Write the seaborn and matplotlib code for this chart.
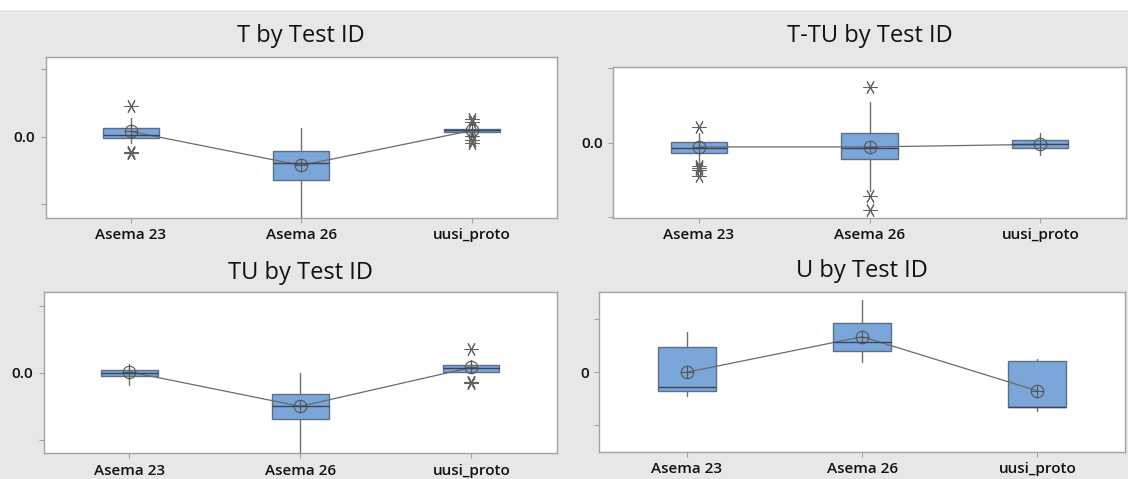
import matplotlib
matplotlib.use("Agg")
import matplotlib.pyplot as plt
from matplotlib.path import Path
from matplotlib.patches import Rectangle
import seaborn as sns

# ---------------------------------------------------------------- data
test_ids = ["Asema 23", "Asema 26", "uusi_proto"]

# T
t_q1 = [-0.024, -0.65, 0.066]
t_med = [0.03, -0.39, 0.09]
t_q3 = [0.13, -0.21, 0.11]
t_lo = [-0.10, -1.40, 0.04]
t_hi = [0.28, 0.125, 0.14]
t_mean = [0.075, -0.43, 0.09]
t_out = [[0.45, -0.23, -0.24, -0.25], [], [0.26, 0.21, 0.01, -0.05, -0.10]]

# T-TU
ttu_q1 = [-0.133, -0.213, -0.075]
ttu_med = [-0.067, -0.067, -0.022]
ttu_q3 = [0.005, 0.133, 0.036]
ttu_lo = [-0.28, -0.653, -0.164]
ttu_hi = [0.125, 0.547, 0.133]
ttu_mean = [-0.057, -0.057, -0.022]
ttu_out = [[0.205, -0.31, -0.34, -0.37, -0.44], [0.74, -0.72, -0.90], []]

# TU
tu_q1 = [-0.05, -0.69, 0.005]
tu_med = [-0.01, -0.50, 0.066]
tu_q3 = [0.036, -0.32, 0.115]
tu_lo = [-0.18, -1.30, 0.005]
tu_hi = [0.125, 0.0, 0.19]
tu_mean = [0.015, -0.50, 0.08]
tu_out = [[], [], [0.35, -0.13, -0.14, -0.15]]

# U
u_q1 = [-0.347, 0.40, -0.66]
u_med = [-0.27, 0.566, -0.65]
u_q3 = [0.477, 0.936, 0.213]
u_lo = [-0.447, 0.194, -0.74]
u_hi = [0.766, 1.36, 0.257]
u_mean = [0.0, 0.67, -0.35]
u_out = [[], [], []]

# ---------------------------------------------------------------- style
sns.set_theme(style="white")
plt.rcParams["font.family"] = ["Open Sans", "DejaVu Sans"]

BG = "#e7e7e7"
BOX = "#7ba6d9"
BOX_EDGE = "#5d6f85"
MEDIAN = "#3a4656"
WHISKER = "#6f6f6f"
FLIER = "#626262"
MEAN = "#6a6a6a"
SPINE = "#a3a3a3"

W, H = 1128, 479
fig = plt.figure(figsize=(W / 100, H / 100), dpi=100, facecolor=BG)
fig.patches.append(Rectangle((0, 1 - 10 / H), 1, 10 / H, transform=fig.transFigure,
                             facecolor="white", edgecolor="none", zorder=0))

# circle with a cross, used for the group means
mean_marker = Path.make_compound_path(
    Path.unit_circle(),
    Path([(-1, 0), (1, 0)], [Path.MOVETO, Path.LINETO]),
    Path([(0, -1), (0, 1)], [Path.MOVETO, Path.LINETO]),
)


def add_axes_px(left, top, right, bottom):
    return fig.add_axes([left / W, 1 - bottom / H, (right - left) / W, (bottom - top) / H])


def draw_panel(box_px, title, title_base, q1, med, q3, lo, hi, means, outs, ylim, zero_label):
    ax = add_axes_px(*box_px)
    ax.set_facecolor("white")
    stats = [dict(q1=a, med=m, q3=b, whislo=l, whishi=h, fliers=f)
             for a, m, b, l, h, f in zip(q1, med, q3, lo, hi, outs)]
    ax.bxp(stats, positions=range(len(test_ids)), widths=0.33, patch_artist=True,
           showcaps=False, showfliers=True, manage_ticks=False,
           boxprops=dict(facecolor=BOX, edgecolor=BOX_EDGE, linewidth=1.0),
           medianprops=dict(color=MEDIAN, linewidth=1.0),
           whiskerprops=dict(color=WHISKER, linewidth=1.0),
           flierprops=dict(marker=(6, 2, 90), markersize=10, linestyle="none",
                           markeredgecolor=FLIER, markerfacecolor=FLIER,
                           markeredgewidth=0.75))
    sns.pointplot(x=test_ids, y=means, ax=ax, errorbar=None, color=MEAN,
                  marker=mean_marker, markersize=9, markerfacecolor="none",
                  markeredgecolor="#555555", markeredgewidth=0.8, linewidth=0.9)
    ax.set_xlim(-0.5, len(test_ids) - 0.5)
    ax.set_ylim(*ylim)
    ax.set_yticks([-1, 0, 1])
    ax.set_yticklabels(["", zero_label, ""])
    ax.set_xticks(range(len(test_ids)))
    ax.set_xticklabels(test_ids)
    ax.set_xlabel("")
    ax.set_ylabel("")
    ax.tick_params(axis="both", which="major", length=3.5, width=0.8, color=SPINE,
                   labelsize=11, labelcolor="#111111", pad=4, left=True, bottom=True)
    for lab in ax.get_xticklabels() + ax.get_yticklabels():
        lab.set_fontweight("semibold")
    for sp in ax.spines.values():
        sp.set_color(SPINE)
        sp.set_linewidth(1.0)
    cx = (box_px[0] + box_px[2]) / 2 / W
    fig.text(cx, 1 - title_base / H, title, ha="center", va="baseline",
             fontsize=17, color="#111111")
    return ax


draw_panel((45.7, 56.7, 557, 217.7), "T by Test ID", 42,
           t_q1, t_med, t_q3, t_lo, t_hi, t_mean, t_out, (-1.21, 1.19), "0.0")
draw_panel((613.3, 67.3, 1125.7, 217.7), "T-TU by Test ID", 42,
           ttu_q1, ttu_med, ttu_q3, ttu_lo, ttu_hi, ttu_mean, ttu_out, (-1.005, 1.01), "0.0")
draw_panel((44, 292.3, 556.7, 453.3), "TU by Test ID", 279,
           tu_q1, tu_med, tu_q3, tu_lo, tu_hi, tu_mean, tu_out, (-1.2, 1.2), "0.0")
draw_panel((599.3, 291.7, 1125, 451.7), "U by Test ID", 277,
           u_q1, u_med, u_q3, u_lo, u_hi, u_mean, u_out, (-1.5, 1.52), "0")

fig.savefig("out.png", dpi=100, facecolor=BG)
